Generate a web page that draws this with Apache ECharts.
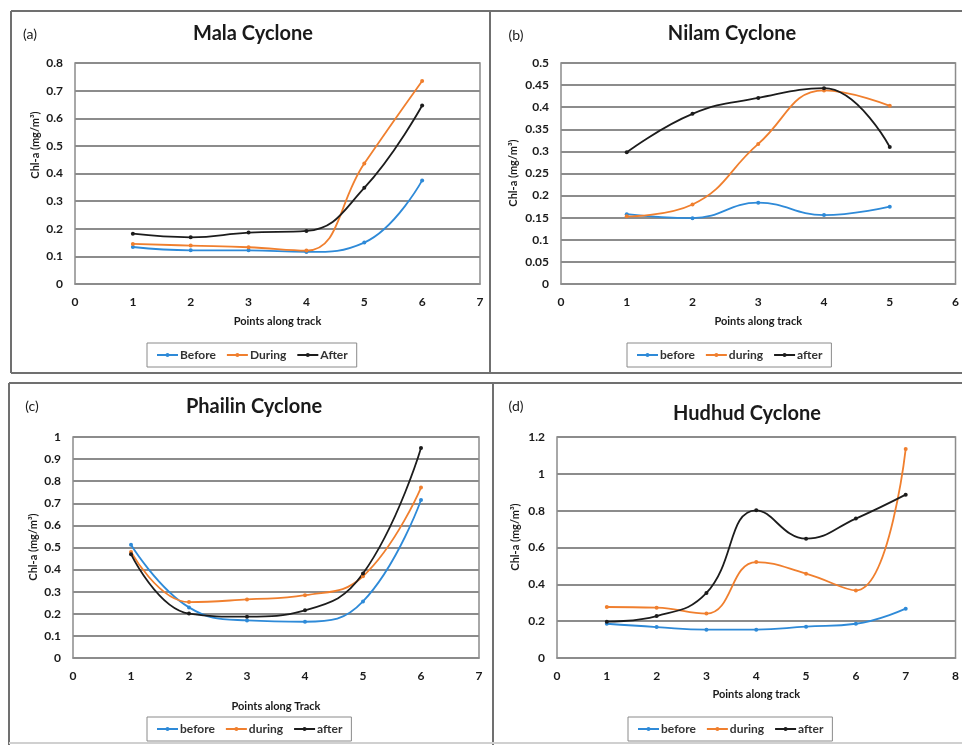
<!DOCTYPE html>
<html>
<head>
<meta charset="utf-8">
<script src="https://cdn.jsdelivr.net/npm/echarts@6/dist/echarts.min.js"></script>
<style>
  html, body { margin: 0; background: #fff; }
  #chart { width: 962px; height: 745px; }
</style>
</head>
<body>
<div id="chart"></div>
<script>
// chlorophyll-a along each cyclone track (mg/m3)
const malaPoints = [1, 2, 3, 4, 5, 6];
const malaBefore = [0.134, 0.122, 0.122, 0.116, 0.150, 0.375];
const malaDuring = [0.145, 0.139, 0.133, 0.121, 0.436, 0.735];
const malaAfter = [0.182, 0.169, 0.186, 0.192, 0.348, 0.646];

const nilamPoints = [1, 2, 3, 4, 5];
const nilamBefore = [0.158, 0.149, 0.184, 0.156, 0.175];
const nilamDuring = [0.153, 0.180, 0.317, 0.438, 0.403];
const nilamAfter = [0.298, 0.385, 0.421, 0.443, 0.310];

const phailinPoints = [1, 2, 3, 4, 5, 6];
const phailinBefore = [0.512, 0.229, 0.170, 0.164, 0.256, 0.715];
const phailinDuring = [0.480, 0.253, 0.265, 0.284, 0.370, 0.771];
const phailinAfter = [0.470, 0.201, 0.187, 0.216, 0.382, 0.950];

const hudhudPoints = [1, 2, 3, 4, 5, 6, 7];
const hudhudBefore = [0.186, 0.168, 0.154, 0.154, 0.170, 0.186, 0.268];
const hudhudDuring = [0.277, 0.273, 0.241, 0.521, 0.458, 0.367, 1.135];
const hudhudAfter = [0.197, 0.228, 0.353, 0.802, 0.648, 0.757, 0.887];

const legendA = ['Before', 'During', 'After'];
const legendB = ['before', 'during', 'after'];

const BLUE = '#2e8ad8';
const ORANGE = '#f07f2e';
const BLACK = '#1c1c1c';
const FONT = 'Lato';

function pairs(xs, ys) {
    return xs.map((x, i) => [x, ys[i]]);
}

function lineSeries(name, color, idx, xs, ys) {
    return {
        name: name,
        type: 'line',
        xAxisIndex: idx,
        yAxisIndex: idx,
        smooth: 0.45,
        symbol: 'circle',
        symbolSize: 4,
        lineStyle: { color: color, width: 1.8 },
        itemStyle: { color: color },
        data: pairs(xs, ys)
    };
}

function xAxis(idx, max, nameGap, name) {
    return {
        type: 'value',
        gridIndex: idx,
        min: 0,
        max: max,
        interval: 1,
        name: name,
        nameLocation: 'middle',
        nameGap: nameGap,
        nameTextStyle: { fontFamily: FONT, fontWeight: 'bold', fontSize: 11, color: '#1a1a1a' },
        axisLine: { lineStyle: { color: '#8c8c8c', width: 1.5 } },
        axisTick: { show: false },
        splitLine: { show: false },
        axisLabel: { margin: 12, fontFamily: FONT, fontWeight: 'bold', fontSize: 12, color: '#1a1a1a' }
    };
}

function yAxis(idx, max, interval) {
    return {
        type: 'value',
        gridIndex: idx,
        min: 0,
        max: max,
        interval: interval,
        axisLine: { show: false },
        axisTick: { show: false },
        splitLine: { lineStyle: { color: '#8c8c8c', width: 1.8 } },
        axisLabel: { margin: 12, fontFamily: FONT, fontWeight: 'bold', fontSize: 12, color: '#1a1a1a' }
    };
}

function legend(names, left, top) {
    return {
        data: names,
        left: left,
        top: top,
        orient: 'horizontal',
        padding: [6, 9],
        itemGap: 10,
        itemWidth: 21,
        itemHeight: 5,
        borderColor: '#8a8a8a',
        borderWidth: 1,
        textStyle: { fontFamily: FONT, fontWeight: 'bold', fontSize: 12, color: '#333', padding: [0, 0, 0, -3] }
    };
}

function label(text, x, y, size, weight, rotate) {
    return {
        type: 'text',
        x: x,
        y: y,
        rotation: rotate ? Math.PI / 2 : 0,
        style: {
            text: text,
            fontFamily: FONT,
            fontSize: size,
            fontWeight: weight,
            fill: '#1a1a1a',
            align: 'center',
            verticalAlign: 'middle'
        }
    };
}

function frameLine(x1, y1, x2, y2, color, width) {
    return {
        type: 'line',
        shape: { x1: x1, y1: y1, x2: x2, y2: y2 },
        style: { stroke: color || '#707070', lineWidth: width || 2 }
    };
}

const chart = echarts.init(document.getElementById('chart'));

const yName = 'Chl-a (mg/m³)';
const gridStyle = { show: true, borderColor: '#8c8c8c', borderWidth: 1.5 };

chart.setOption({
    backgroundColor: '#fff',
    animation: false,
    grid: [
        Object.assign({ left: 75, top: 63, width: 405, height: 221 }, gridStyle),
        Object.assign({ left: 561, top: 63, width: 398, height: 221 }, gridStyle),
        Object.assign({ left: 73, top: 437, width: 406, height: 221 }, gridStyle),
        Object.assign({ left: 557, top: 437, width: 401, height: 221 }, gridStyle)
    ],
    xAxis: [
        xAxis(0, 7, 32, 'Points along track'),
        xAxis(1, 6, 32, 'Points along track'),
        xAxis(2, 7, 43, 'Points along Track'),
        xAxis(3, 8, 31, 'Points along track')
    ],
    yAxis: [
        yAxis(0, 0.8, 0.1),
        yAxis(1, 0.5, 0.05),
        yAxis(2, 1, 0.1),
        yAxis(3, 1.2, 0.2)
    ],
    legend: [
        legend(legendA, 147, 343),
        legend(legendB, 627, 343),
        legend(legendB, 147, 717),
        legend(legendB, 628, 717)
    ],
    series: [
        lineSeries('Before', BLUE, 0, malaPoints, malaBefore),
        lineSeries('During', ORANGE, 0, malaPoints, malaDuring),
        lineSeries('After', BLACK, 0, malaPoints, malaAfter),
        lineSeries('before', BLUE, 1, nilamPoints, nilamBefore),
        lineSeries('during', ORANGE, 1, nilamPoints, nilamDuring),
        lineSeries('after', BLACK, 1, nilamPoints, nilamAfter),
        lineSeries('before', BLUE, 2, phailinPoints, phailinBefore),
        lineSeries('during', ORANGE, 2, phailinPoints, phailinDuring),
        lineSeries('after', BLACK, 2, phailinPoints, phailinAfter),
        lineSeries('before', BLUE, 3, hudhudPoints, hudhudBefore),
        lineSeries('during', ORANGE, 3, hudhudPoints, hudhudDuring),
        lineSeries('after', BLACK, 3, hudhudPoints, hudhudAfter)
    ],
    graphic: [
        // panel frames
        frameLine(11, 11, 962, 11),
        frameLine(11, 11, 11, 373),
        frameLine(11, 373, 962, 373),
        frameLine(490, 11, 490, 373),
        frameLine(9, 383, 962, 383),
        frameLine(9, 383, 9, 745),
        frameLine(493, 383, 493, 745),
        frameLine(9, 743, 962, 743, '#d0d0d0', 2),
        // titles and panel letters
        label('Mala Cyclone', 253, 34, 20, 'bold'),
        label('Nilam Cyclone', 732, 34, 20, 'bold'),
        label('Phailin Cyclone', 254, 407, 20, 'bold'),
        label('Hudhud Cyclone', 747, 414, 20, 'bold'),
        label('(a)', 30, 34, 14, 'normal'),
        label('(b)', 516, 35, 14, 'normal'),
        label('(c)', 32, 406, 14, 'normal'),
        label('(d)', 516, 406, 14, 'normal'),
        // y axis names
        label(yName, 35, 145, 11, 'bold', true),
        label(yName, 513, 173, 11, 'bold', true),
        label(yName, 33, 547, 11, 'bold', true),
        label(yName, 515, 537, 11, 'bold', true)
    ]
});
</script>
</body>
</html>
